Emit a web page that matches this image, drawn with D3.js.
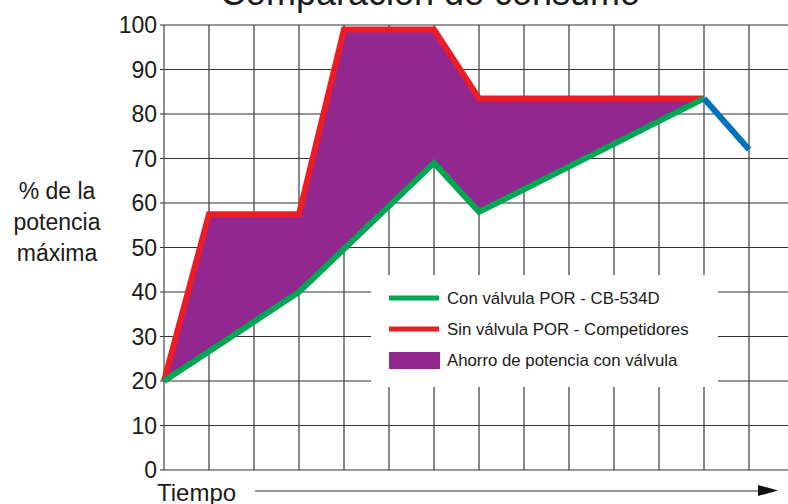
<!DOCTYPE html>
<html>
<head>
<meta charset="utf-8">
<script src="https://cdn.jsdelivr.net/npm/d3@7"></script>
<style>
  html, body { margin: 0; padding: 0; background: #fff; }
  svg { display: block; font-family: "Liberation Sans", Arial, Helvetica, sans-serif; }
</style>
</head>
<body>
<svg id="chart" width="788" height="504"></svg>
<script>
// Time steps (grid columns) and percentage ticks
const timeSteps = d3.range(0, 15);
const yTicks = [0, 10, 20, 30, 40, 50, 60, 70, 80, 90, 100];

// Sin válvula POR - Competidores
const sinT = [0, 1, 3, 4, 6, 7, 12];
const sinV = [20, 57.5, 57.5, 99, 99, 83.5, 83.5];

// Con válvula POR - CB-534D
const conT = [0, 3, 6, 7, 12];
const conV = [20, 40, 69, 58, 83.5];

// Common tail after both curves meet
const tailT = [12, 13];
const tailV = [83.5, 72];

const legendLabels = [
  "Con válvula POR - CB-534D",
  "Sin válvula POR - Competidores",
  "Ahorro de potencia con válvula"
];
const colors = { con: "#00a651", sin: "#ed1c24", ahorro: "#92278f", tail: "#0072bc" };

const svg = d3.select("#chart");
const x = d3.scaleLinear().domain([0, 1]).range([164, 209]);
const y = d3.scaleLinear().domain([0, 100]).range([470, 25]);
const right = 788;

// Grid
const grid = svg.append("g");
grid.selectAll("line.h").data(yTicks).join("line")
  .attr("x1", 160).attr("x2", right)
  .attr("y1", d => y(d)).attr("y2", d => y(d))
  .attr("stroke", d => d === 100 ? "#777" : "#333")
  .attr("stroke-width", d => d === 100 ? 1.6 : 1.2);
grid.selectAll("line.v").data(timeSteps.filter(t => x(t) < right)).join("line")
  .attr("x1", d => x(d)).attr("x2", d => x(d))
  .attr("y1", y(100)).attr("y2", y(0))
  .attr("stroke", (d, i) => i === 0 ? "#444" : "#3a3a3a")
  .attr("stroke-width", 1.2);

// Y tick labels
svg.append("g").selectAll("text").data(yTicks).join("text")
  .attr("x", 157).attr("y", d => y(d))
  .attr("dy", "0.36em")
  .attr("text-anchor", "end")
  .attr("font-size", 23)
  .attr("fill", "#1a1a1a")
  .text(d => d);

// Savings area between both curves
const sinPts = sinT.map((t, i) => [x(t), y(sinV[i])]);
const conPts = conT.map((t, i) => [x(t), y(conV[i])]);
const areaPts = sinPts.concat(conPts.slice().reverse());
svg.append("path")
  .attr("d", d3.line()(areaPts) + "Z")
  .attr("fill", colors.ahorro);

const line = d3.line();
svg.append("path").attr("d", line(sinPts))
  .attr("fill", "none").attr("stroke", colors.sin).attr("stroke-width", 6)
  .attr("stroke-linejoin", "miter");
svg.append("path").attr("d", line(conPts))
  .attr("fill", "none").attr("stroke", colors.con).attr("stroke-width", 6)
  .attr("stroke-linejoin", "miter");
svg.append("path").attr("d", line(tailT.map((t, i) => [x(t), y(tailV[i])])))
  .attr("fill", "none").attr("stroke", colors.tail).attr("stroke-width", 6);

// Legend
const lg = svg.append("g");
lg.append("rect").attr("x", 371).attr("y", 275).attr("width", 347).attr("height", 112).attr("fill", "#fff");
const rows = [298, 329, 360];
lg.append("line").attr("x1", 389).attr("x2", 439).attr("y1", rows[0]).attr("y2", rows[0])
  .attr("stroke", colors.con).attr("stroke-width", 5);
lg.append("line").attr("x1", 389).attr("x2", 439).attr("y1", rows[1]).attr("y2", rows[1])
  .attr("stroke", colors.sin).attr("stroke-width", 5);
lg.append("rect").attr("x", 389).attr("y", 352).attr("width", 51).attr("height", 17)
  .attr("fill", colors.ahorro);
lg.selectAll("text").data(legendLabels).join("text")
  .attr("x", 447).attr("y", (d, i) => rows[i] + 6)
  .attr("font-size", 16.8).attr("fill", "#1a1a1a")
  .text(d => d);

// Title (partly above the canvas)
svg.append("text").attr("x", 430).attr("y", 5)
  .attr("text-anchor", "middle").attr("font-size", 36).attr("fill", "#1a1a1a")
  .text("Comparación de consumo");

// Y axis title
svg.append("text").attr("x", 57).attr("font-size", 23).attr("fill", "#1a1a1a")
  .attr("text-anchor", "middle")
  .selectAll("tspan").data(["% de la", "potencia", "máxima"]).join("tspan")
  .attr("x", 57).attr("y", (d, i) => 199 + i * 31)
  .text(d => d);

// X axis title with arrow
svg.append("text").attr("x", 157).attr("y", 501)
  .attr("font-size", 24).attr("fill", "#1a1a1a").text("Tiempo");
svg.append("line").attr("x1", 255).attr("x2", 760).attr("y1", 491).attr("y2", 491)
  .attr("stroke", "#777").attr("stroke-width", 1.4);
svg.append("path")
  .attr("d", d3.line()([[758, 485], [778, 490.5], [758, 496]]) + "Z")
  .attr("fill", "#111");
</script>
</body>
</html>
